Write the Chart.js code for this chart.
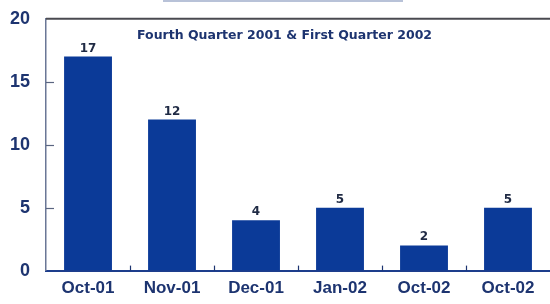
<!DOCTYPE html>
<html>
<head>
<meta charset="utf-8">
<script src="https://cdn.jsdelivr.net/npm/chart.js@4.4.1/dist/chart.umd.min.js"></script>
<style>
  html, body { margin: 0; padding: 0; background: #fff; }
  #wrap { position: relative; width: 550px; height: 304px; }
  #topline { position: absolute; left: 163px; top: 0px; width: 240px; height: 0; border-top: 2px solid #b8c2d8; }
</style>
</head>
<body>
<div id="wrap">
  <div id="topline"></div>
  <canvas id="barChart" width="550" height="304"></canvas>
</div>
<script>
const months = ["Oct-01", "Nov-01", "Dec-01", "Jan-02", "Oct-02", "Oct-02"];
const counts = [17, 12, 4, 5, 2, 5];
const yTicks = [0, 5, 10, 15, 20];
const subtitle = "Fourth Quarter 2001 & First Quarter 2002";

const navy = "#1d3470";
const barBlue = "#0b3a98";

// small inward ticks, top border, title and value labels
const extras = {
    id: "extras",
    afterDatasetsDraw(chart) {
        const ctx = chart.ctx;
        const area = chart.chartArea;
        const y = chart.scales.y;
        const x = chart.scales.x;
        ctx.save();
        // top border
        ctx.strokeStyle = "#4a4a50";
        ctx.lineWidth = 2;
        ctx.beginPath();
        ctx.moveTo(area.left, area.top);
        ctx.lineTo(area.right, area.top);
        ctx.stroke();
        // y ticks pointing in
        ctx.strokeStyle = "#5a6580";
        ctx.lineWidth = 1.2;
        yTicks.slice(1, -1).forEach(v => {
            const py = Math.round(y.getPixelForValue(v)) + 0.5;
            ctx.beginPath();
            ctx.moveTo(area.left, py);
            ctx.lineTo(area.left + 8, py);
            ctx.stroke();
        });
        // x ticks between categories
        ctx.strokeStyle = "#1d3470";
        for (let i = 1; i < months.length; i++) {
            const px = Math.round((x.getPixelForValue(i - 1) + x.getPixelForValue(i)) / 2) + 0.5;
            ctx.beginPath();
            ctx.moveTo(px, area.bottom);
            ctx.lineTo(px, area.bottom - 5);
            ctx.stroke();
        }
        // title inside the plot
        ctx.fillStyle = navy;
        ctx.font = "bold 12.5px 'DejaVu Sans', sans-serif";
        ctx.textAlign = "left";
        ctx.textBaseline = "alphabetic";
        ctx.fillText(subtitle, area.left + 91, area.top + 20);
        // bar values
        ctx.fillStyle = "#1f2a44";
        ctx.font = "bold 12px 'DejaVu Sans', sans-serif";
        ctx.textAlign = "center";
        ctx.textBaseline = "alphabetic";
        chart.getDatasetMeta(0).data.forEach((bar, i) => {
            ctx.fillText(counts[i], bar.x, bar.y - 5);
        });
        ctx.restore();
    }
};

const bar = document.getElementById("barChart");
const barChart = new Chart(bar, {
    type: "bar",
    data: {
        labels: months,
        datasets: [{
            data: counts,
            backgroundColor: barBlue,
            borderWidth: 0,
            categoryPercentage: 1,
            barPercentage: 0.57
        }]
    },
    options: {
        responsive: false,
        animation: false,
        layout: { padding: { top: 5, right: 0, bottom: 5, left: 2 } },
        plugins: {
            legend: { display: false },
            title: { display: false },
            tooltip: { enabled: false }
        },
        scales: {
            x: {
                grid: { display: false },
                border: { display: true, color: "#1d3d8c", width: 2 },
                ticks: {
                    color: navy,
                    padding: 0,
                    font: { family: "'Liberation Sans', Arial, sans-serif", size: 17, weight: "bold" }
                }
            },
            y: {
                min: 0,
                max: 20,
                afterBuildTicks: (axis) => { axis.ticks = yTicks.map(v => ({ value: v })); },
                grid: { display: false },
                border: { display: true, color: "#6a7796", width: 1.5 },
                ticks: {
                    color: navy,
                    padding: 8,
                    font: { family: "'Liberation Sans', Arial, sans-serif", size: 18, weight: "bold" }
                }
            }
        }
    },
    plugins: [extras]
});
</script>
</body>
</html>
